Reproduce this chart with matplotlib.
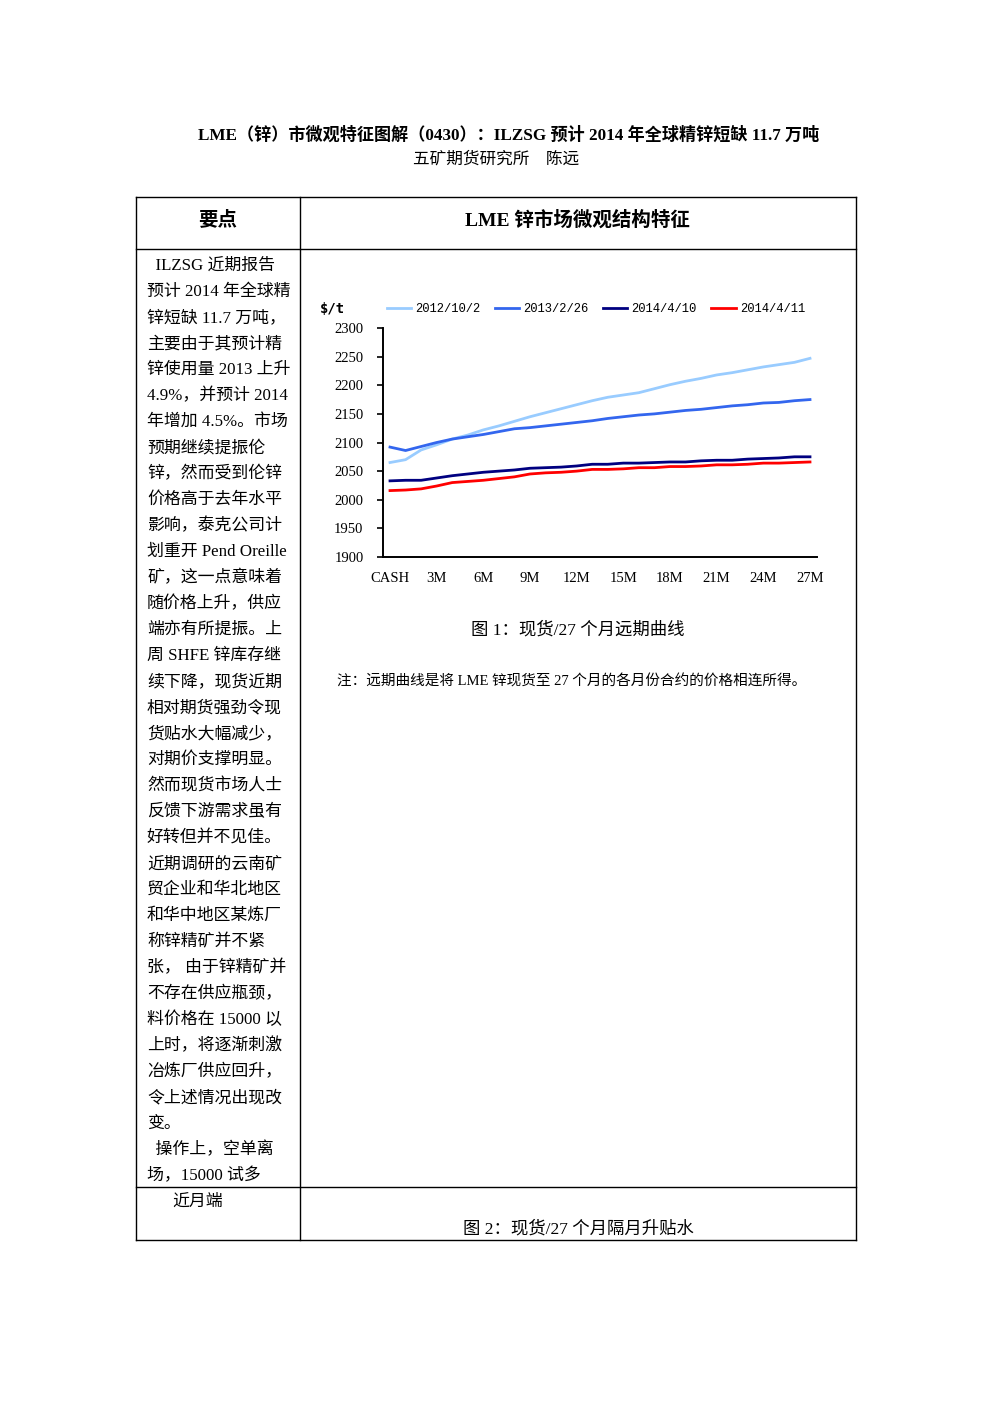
import numpy as np
import matplotlib.pyplot as plt

plt.rcParams['font.family'] = ['Liberation Serif', 'Noto Sans CJK SC', 'DejaVu Sans']

# forward curve: CASH .. 27M
months = ["CASH"] + [f"{m}M" for m in range(1, 28)]
tick_labels = ["CASH", "3M", "6M", "9M", "12M", "15M", "18M", "21M", "24M", "27M"]

s_20121002 = [2065, 2070, 2087, 2096, 2106, 2113, 2122, 2129, 2137, 2145,
              2152, 2159, 2166, 2173, 2179, 2183, 2187, 2194, 2201, 2207,
              2212, 2218, 2222, 2227, 2232, 2236, 2240, 2247]
s_20130226 = [2092, 2086, 2093, 2100, 2106, 2110, 2114, 2119, 2124, 2126,
              2129, 2132, 2135, 2138, 2142, 2145, 2148, 2150, 2153, 2156,
              2158, 2161, 2164, 2166, 2169, 2170, 2173, 2175]
s_20140410 = [2033, 2034, 2034, 2038, 2042, 2045, 2048, 2050, 2052, 2055,
              2056, 2057, 2059, 2062, 2062, 2064, 2064, 2065, 2066, 2066,
              2068, 2069, 2069, 2071, 2072, 2073, 2075, 2075]
s_20140411 = [2016, 2017, 2019, 2024, 2030, 2032, 2034, 2037, 2040, 2045,
              2047, 2048, 2050, 2053, 2053, 2054, 2056, 2056, 2058, 2058,
              2059, 2061, 2061, 2062, 2064, 2064, 2065, 2066]

series = [("2012/10/2", s_20121002, "#99CCFF"),
          ("2013/2/26", s_20130226, "#3366EE"),
          ("2014/4/10", s_20140410, "#000080"),
          ("2014/4/11", s_20140411, "#FF0000")]

left_lines = [
    "  ILZSG 近期报告", "预计 2014 年全球精", "锌短缺 11.7 万吨，", "主要由于其预计精",
    "锌使用量 2013 上升", "4.9%，并预计 2014", "年增加 4.5%。市场", "预期继续提振伦",
    "锌，然而受到伦锌", "价格高于去年水平", "影响，泰克公司计", "划重开 Pend Oreille",
    "矿，这一点意味着", "随价格上升，供应", "端亦有所提振。上", "周 SHFE 锌库存继",
    "续下降，现货近期", "相对期货强劲令现", "货贴水大幅减少，", "对期价支撑明显。",
    "然而现货市场人士", "反馈下游需求虽有", "好转但并不见佳。", "近期调研的云南矿",
    "贸企业和华北地区", "和华中地区某炼厂", "称锌精矿并不紧", "张， 由于锌精矿并",
    "不存在供应瓶颈，", "料价格在 15000 以", "上时，将逐渐刺激", "冶炼厂供应回升，",
    "令上述情况出现改", "变。", "  操作上，空单离", "场，15000 试多",
]

W, H = 992, 1403
fig = plt.figure(figsize=(W / 100, H / 100), dpi=100)

# page layer in pixel coordinates
page = fig.add_axes([0, 0, 1, 1])
page.set_xlim(0, W)
page.set_ylim(H, 0)
page.axis("off")

page.text(509, 135, "LME（锌）市微观特征图解（0430）：ILZSG 预计 2014 年全球精锌短缺 11.7 万吨",
          ha="center", va="center", fontsize=12.3, fontweight="bold")
page.text(496, 160, "五矿期货研究所    陈远", ha="center", va="center", fontsize=12)

# table frame
for x0, y0, x1, y1 in [(136, 197, 856, 197), (136, 1240, 856, 1240),
                       (136, 197, 136, 1240), (856, 197, 856, 1240),
                       (300, 197, 300, 1240), (136, 249, 856, 249),
                       (136, 1187, 856, 1187)]:
    page.plot([x0, x1], [y0, y1], color="black", lw=1.0)

page.text(218, 220, "要点", ha="center", va="center", fontsize=14, fontweight="bold")
page.text(577, 220, "LME 锌市场微观结构特征", ha="center", va="center", fontsize=14, fontweight="bold")

for i, line in enumerate(left_lines):
    page.text(147, 266 + 26 * i, line, ha="left", va="center", fontsize=12.2)
page.text(172, 1202, "近月端", ha="left", va="center", fontsize=12.2)

page.text(578, 630, "图 1：现货/27 个月远期曲线", ha="center", va="center", fontsize=12.5)
page.text(337, 682, "注：远期曲线是将 LME 锌现货至 27 个月的各月份合约的价格相连所得。",
          ha="left", va="center", fontsize=10.5)
page.text(578, 1229, "图 2：现货/27 个月隔月升贴水", ha="center", va="center", fontsize=12.5)

# chart
ax = fig.add_axes([383 / W, 1 - 557 / H, (817 - 383) / W, 229 / H])
x = np.arange(len(months))
for name, vals, c in series:
    ax.plot(x, vals, color=c, lw=2.0, label=name)

ax.set_xlim(-0.45, 27.45)
ax.set_ylim(1900, 2300)
ax.set_yticks(np.arange(1900, 2301, 50))
ax.set_xticks(np.arange(0, 28, 3))
ax.set_xticklabels(tick_labels)
ax.tick_params(axis="x", length=0, pad=11, labelsize=10.5)
ax.tick_params(axis="y", length=4, width=1.2, labelsize=10.5, pad=10)
for s in ["top", "right"]:
    ax.spines[s].set_visible(False)
for s in ["left", "bottom"]:
    ax.spines[s].set_linewidth(1.4)
ax.patch.set_alpha(0)

page.text(320, 309, "$/t", ha="left", va="center", fontsize=10, fontweight="bold",
          family="DejaVu Sans Mono")

ax.legend(loc="center left", bbox_to_anchor=(387 / W, 1 - 309 / H),
          bbox_transform=fig.transFigure, ncol=4, frameon=False,
          borderaxespad=0, borderpad=0, handlelength=2.0, handletextpad=0.35,
          columnspacing=1.2, prop={"family": "Liberation Mono", "size": 8.7})

fig.savefig("out.png", dpi=100)
plt.close(fig)
